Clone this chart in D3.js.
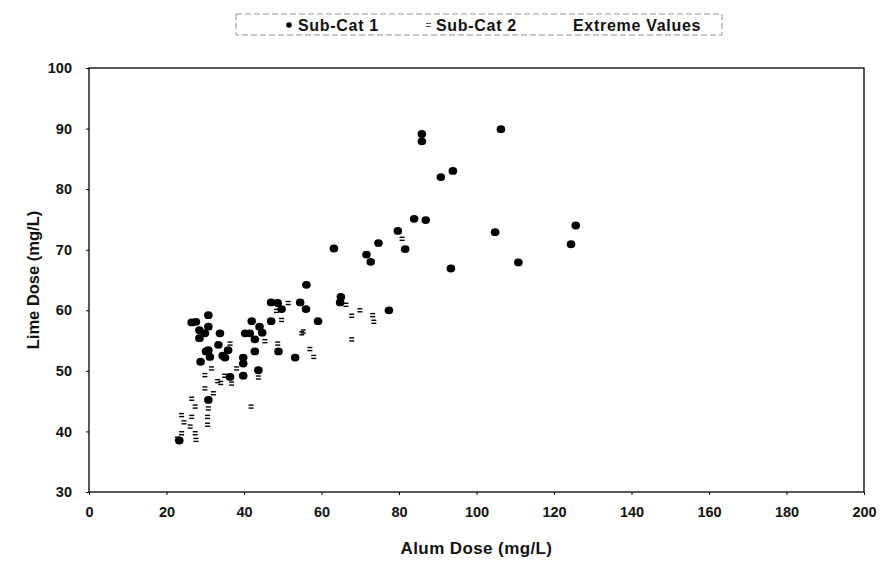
<!DOCTYPE html>
<html>
<head>
<meta charset="utf-8">
<script src="https://cdn.jsdelivr.net/npm/d3@7"></script>
<style>
  body { margin: 0; background: #fff; }
  text { font-family: "Liberation Sans", Arial, sans-serif; fill: #111; }
</style>
</head>
<body>
<svg id="chart" width="882" height="561"></svg>
<script>
// [alum, lime]
const subCat1 = [
  [106.3, 89.9], [85.9, 89.1], [85.9, 87.9], [93.9, 83.0], [90.8, 82.0],
  [125.6, 74.0], [124.4, 70.9], [104.8, 72.9], [110.8, 67.9], [93.4, 66.9],
  [83.9, 75.1], [86.9, 74.9], [79.7, 73.1], [81.6, 70.1], [74.7, 71.1],
  [71.6, 69.2], [72.7, 68.0], [63.2, 70.2], [56.1, 64.2], [65.0, 62.2],
  [64.8, 61.3], [54.5, 61.3], [56.0, 60.2], [77.4, 60.0], [59.1, 58.2],
  [30.8, 59.2], [30.8, 57.3], [33.8, 56.2], [42.0, 58.2], [44.0, 57.3],
  [40.3, 56.2], [41.5, 56.2], [44.7, 56.3], [42.8, 55.2], [47.0, 58.2],
  [47.0, 61.3], [48.7, 61.2], [49.7, 60.2], [42.8, 53.2], [48.9, 53.2],
  [53.2, 52.2], [39.8, 52.2], [30.8, 53.4], [33.4, 54.3], [35.9, 53.4],
  [34.5, 52.5], [35.1, 52.2], [39.8, 51.2], [43.7, 50.1], [36.4, 49.0],
  [39.8, 49.2], [30.8, 45.2], [26.5, 58.0], [27.6, 58.1], [28.5, 56.7],
  [28.5, 55.4], [29.9, 56.2], [30.2, 53.2], [28.8, 51.5], [31.2, 52.3],
  [23.3, 38.5]
];

const subCat2 = [
  [80.8, 71.8], [66.3, 60.9], [69.9, 60.0], [67.8, 59.1], [73.2, 59.2],
  [73.5, 58.1], [67.8, 55.2], [55.3, 56.5], [57.0, 53.6], [54.9, 56.2],
  [48.4, 59.9], [49.7, 58.4], [48.7, 54.5], [45.4, 54.9], [36.4, 54.5],
  [51.4, 61.2], [33.2, 48.3], [32.1, 46.3], [30.8, 43.8], [30.6, 42.4],
  [30.6, 41.1], [43.7, 48.9], [36.8, 47.9], [38.1, 50.4], [31.6, 50.4],
  [29.9, 49.3], [29.9, 47.1], [26.5, 45.4], [27.4, 44.1], [23.9, 42.7],
  [26.5, 42.4], [23.9, 39.7], [27.4, 39.7], [27.6, 38.6], [26.1, 40.8],
  [24.5, 41.5], [41.8, 44.1], [34.0, 48.0], [35.0, 49.2], [22.8, 38.8],
  [58.0, 52.3]
];

const extremeValues = [];

const xTicks = [0, 20, 40, 60, 80, 100, 120, 140, 160, 180, 200];
const yTicks = [30, 40, 50, 60, 70, 80, 90, 100];
const legendNames = ["Sub-Cat 1", "Sub-Cat 2", "Extreme Values"];

const svg = d3.select("#chart");
const margin = {left: 89, right: 18, top: 68, bottom: 69};
const width = 882 - margin.left - margin.right;
const height = 561 - margin.top - margin.bottom;

const x = d3.scaleLinear().domain([0, 200]).range([0, width]);
const y = d3.scaleLinear().domain([30, 100]).range([height, 0]);

const g = svg.append("g").attr("transform", `translate(${margin.left},${margin.top})`);

// plot frame
g.append("rect")
  .attr("x", 0).attr("y", 0)
  .attr("width", width).attr("height", height)
  .attr("fill", "none").attr("stroke", "#000").attr("stroke-width", 1.3);

const xAxis = g.append("g")
  .attr("transform", `translate(0,${height})`)
  .call(d3.axisBottom(x).tickValues(xTicks).tickSize(3).tickPadding(12));
const yAxis = g.append("g")
  .call(d3.axisLeft(y).tickValues(yTicks).tickSize(3).tickPadding(14));

[xAxis, yAxis].forEach(a => {
  a.select(".domain").remove();
  a.selectAll("line").attr("stroke", "#000");
  a.selectAll("text")
    .style("font-size", "14.5px")
    .style("font-weight", "bold")
    .attr("fill", "#111");
});

// sub-cat 2: small double dash
const dash = g.selectAll(".sub2").data(subCat2).join("g")
  .attr("class", "sub2")
  .attr("transform", d => `translate(${x(d[0])},${y(d[1])})`);
dash.append("line").attr("x1", -2.5).attr("x2", 2.5).attr("y1", -1.5).attr("y2", -1.5)
  .attr("stroke", "#000").attr("stroke-width", 1.4);
dash.append("line").attr("x1", -2.5).attr("x2", 2.5).attr("y1", 1.5).attr("y2", 1.5)
  .attr("stroke", "#000").attr("stroke-width", 1.4);

// sub-cat 1: solid dots
g.selectAll(".sub1").data(subCat1).join("ellipse")
  .attr("class", "sub1")
  .attr("cx", d => x(d[0])).attr("cy", d => y(d[1]))
  .attr("rx", 4.3).attr("ry", 3.9)
  .attr("fill", "#000");

// extreme values (no visible marks)
g.selectAll(".extreme").data(extremeValues).join("circle")
  .attr("class", "extreme")
  .attr("cx", d => x(d[0])).attr("cy", d => y(d[1]))
  .attr("r", 4).attr("fill", "none");

// axis titles
svg.append("text")
  .attr("x", margin.left + x(100)).attr("y", 554)
  .attr("text-anchor", "middle")
  .style("font-size", "17px").style("font-weight", "bold")
  .style("letter-spacing", "0.4px")
  .text("Alum Dose (mg/L)");
svg.append("text")
  .attr("transform", `translate(39,${margin.top + y(65)}) rotate(-90)`)
  .attr("text-anchor", "middle")
  .style("font-size", "16.5px").style("font-weight", "bold")
  .text("Lime Dose (mg/L)");

// legend
const lg = svg.append("g");
lg.append("rect")
  .attr("x", 236).attr("y", 14).attr("width", 486).attr("height", 21)
  .attr("fill", "none").attr("stroke", "#777").attr("stroke-width", 0.8)
  .attr("stroke-dasharray", "6,3");
lg.append("circle").attr("cx", 289).attr("cy", 25).attr("r", 2.8).attr("fill", "#000");
lg.append("line").attr("x1", 426).attr("x2", 431).attr("y1", 23.5).attr("y2", 23.5)
  .attr("stroke", "#555").attr("stroke-width", 1);
lg.append("line").attr("x1", 426).attr("x2", 431).attr("y1", 26.5).attr("y2", 26.5)
  .attr("stroke", "#555").attr("stroke-width", 1);
const legendX = [298, 436, 573];
lg.selectAll(".lt").data(legendNames).join("text")
  .attr("class", "lt")
  .attr("x", (d, i) => legendX[i]).attr("y", 30.5)
  .style("font-size", "16px").style("font-weight", "bold")
  .style("letter-spacing", "0.7px")
  .text(d => d);
</script>
</body>
</html>
